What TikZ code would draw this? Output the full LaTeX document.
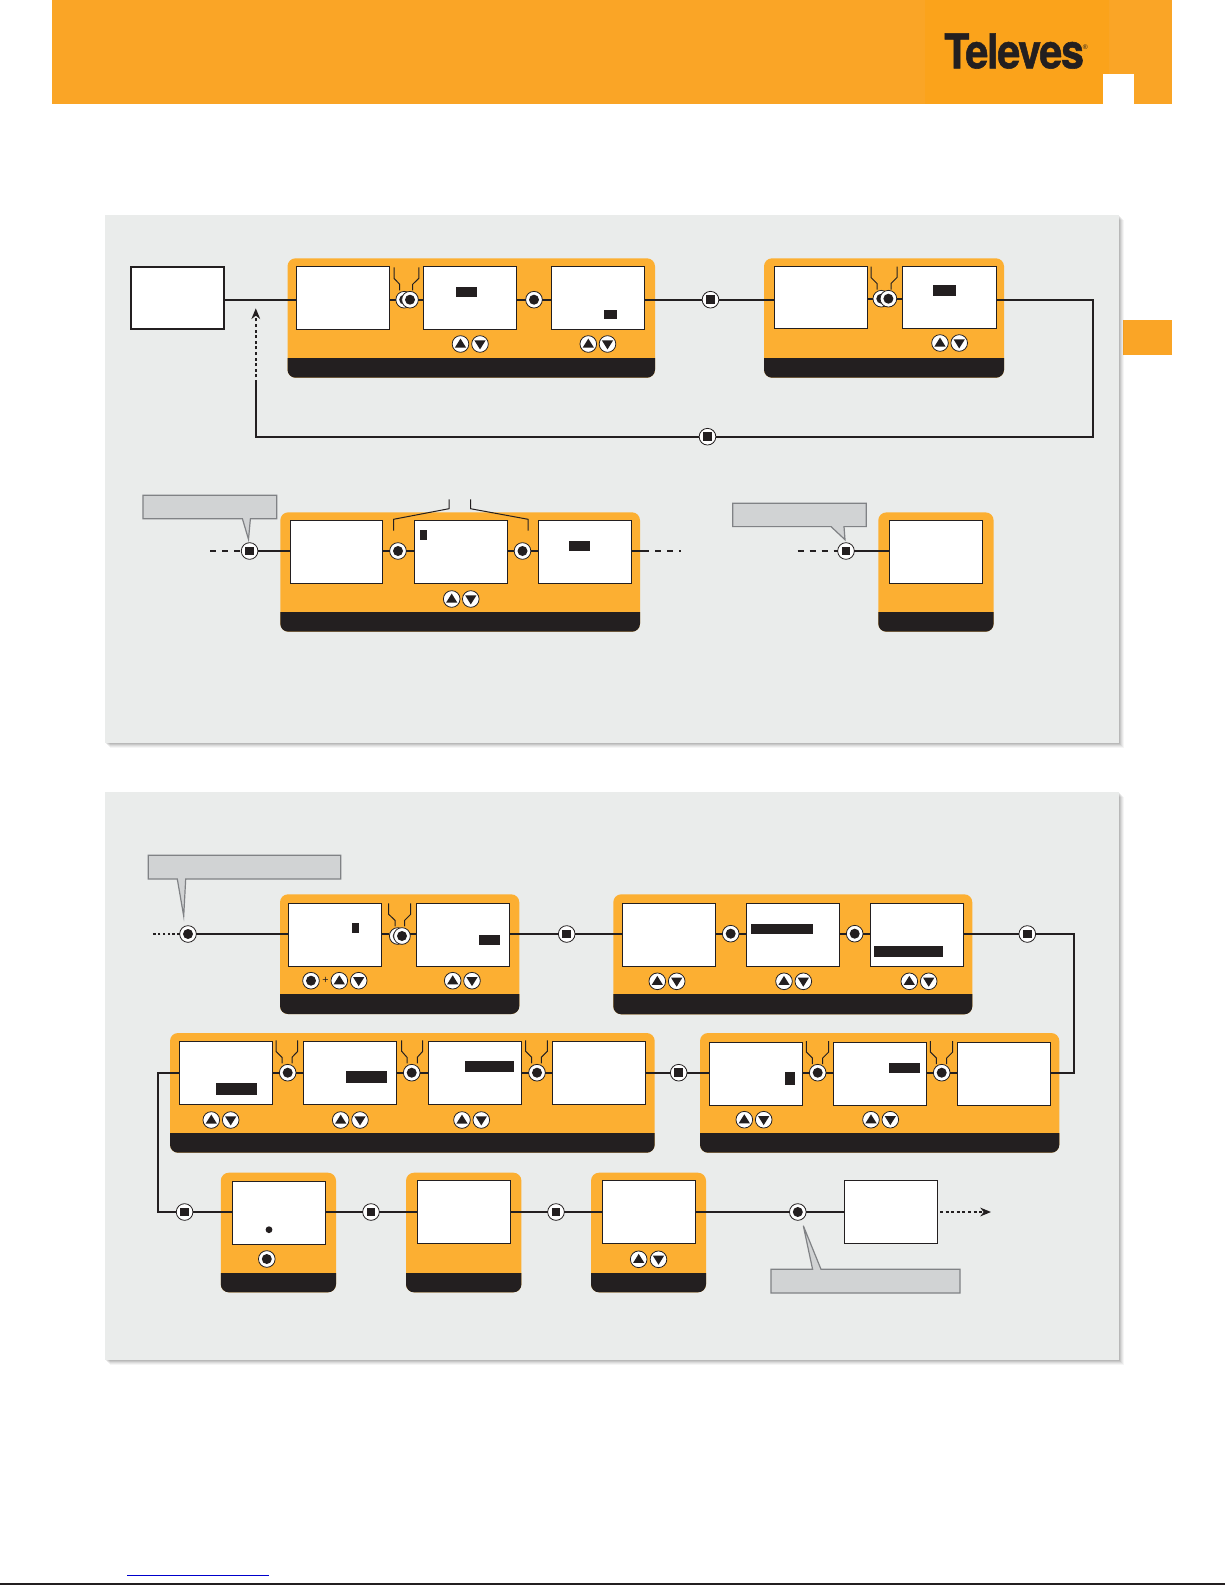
\documentclass[tikz,border=0pt]{standalone}
\usepackage{fontspec}
\usetikzlibrary{arrows.meta}
\newfontfamily\logofont[LetterSpace=-3,BoldFeatures={FakeBold=1.2}]{TeX Gyre Heros}
\newfontfamily\plusfont{Liberation Sans}
\definecolor{ink}{HTML}{231F20}
\definecolor{hdr}{HTML}{FAA526}
\definecolor{tile}{HTML}{FBA31B}
\definecolor{grp}{HTML}{FCAF32}
\definecolor{panel}{HTML}{EAECEB}
\definecolor{callfill}{HTML}{D1D3D4}
\definecolor{callline}{HTML}{808285}
\tikzset{
  screenbox/.style={draw=ink,fill=white,line width=.8pt,inner sep=0,outer sep=0},
  bcirc/.style={circle,draw=ink,line width=.6pt,fill=white,minimum size=12.5pt,inner sep=0,outer sep=0},
  conn/.style={draw=ink,line width=1.3pt},
  brk/.style={draw=ink,line width=.75pt},
  callout/.style={draw=callline,fill=callfill,line width=.9pt,line join=miter},
  tipdot/.style={-{Stealth[length=8pt,width=6.5pt,inset=2.5pt]},draw=ink,line width=1.3pt,dash pattern=on 2.2pt off 2pt},
}
\newcommand\scrn[5]{\pgfmathsetmacro\wdd{(#4-#2)*0.75}\pgfmathsetmacro\htt{(#5-#3)*0.75}\node[screenbox,minimum width=\wdd pt,minimum height=\htt pt] (#1) at ({(#2+#4)/2},{(#3+#5)/2}) {};}
\newcommand\grpbox[6]{\pgfmathsetmacro\wdd{(#4-#2)*0.75}\pgfmathsetmacro\htt{(#5-#3)*0.75}\node[fill=grp,rounded corners=6pt,inner sep=0,outer sep=0,minimum width=\wdd pt,minimum height=\htt pt] (#1) at ({(#2+#4)/2},{(#3+#5)/2}) {};
  \fill[ink] (#2,#6) [rounded corners=6pt] -- (#2,#5) -- (#4,#5) [sharp corners] -- (#4,#6) -- cycle;}
\newcommand\hilite[4]{\fill[ink] (#1,#2) rectangle (#3,#4);}
\newcommand\bdot[3]{\node[bcirc] (#1) at (#2,#3) {}; \fill[ink] (#1.center) circle (5);}
\newcommand\bsq[3]{\node[bcirc] (#1) at (#2,#3) {}; \fill[ink] ([shift={(-4.4,-4.4)}]#1.center) rectangle ([shift={(4.4,4.4)}]#1.center);}
\newcommand\bup[3]{\node[bcirc] (#1) at (#2,#3) {}; \fill[ink] ([shift={(-5.6,3.6)}]#1.center) -- ([shift={(5.6,3.6)}]#1.center) -- ([shift={(0,-5.4)}]#1.center) -- cycle;}
\newcommand\bdn[3]{\node[bcirc] (#1) at (#2,#3) {}; \fill[ink] ([shift={(-5.6,-3.6)}]#1.center) -- ([shift={(5.6,-3.6)}]#1.center) -- ([shift={(0,5.4)}]#1.center) -- cycle;}
\newcommand\bpair[4]{\bup{#1u}{#2}{#4}\bdn{#1d}{#3}{#4}}
\newcommand\fork[5]{\pgfmathsetmacro\ya{#5+11}\pgfmathsetmacro\yb{#5+17}\pgfmathsetmacro\yc{#5+23}
  \draw[brk] (#1,#5) -- (#1,\ya) -- (#2,\yb) -- (#2,\yc);
  \draw[brk] (#3,#5) -- (#3,\ya) -- (#4,\yb) -- (#4,\yc);}
\newcommand\panelbox[4]{%
  \foreach \o/\a in {5/.04,4/.05,3/.06,2/.08,1/.08}{\fill[black,opacity=\a] (#1+\o,#2+\o) rectangle (#3+\o,#4+\o);}
  \fill[panel] (#1,#2) rectangle (#3,#4);}
\begin{document}
\begin{tikzpicture}[x=0.75pt,y=-0.75pt]
\useasboundingbox (0,0) rectangle (1225,1585);
\fill[white] (0,0) rectangle (1225,1585);
% header
\fill[hdr] (52,0) rectangle (1172,104);
\fill[tile] (925,0) rectangle (1109,104);
\fill[white] (1103,74) rectangle (1134,104);
\node[anchor=base west,inner sep=0,text=ink,font=\logofont\bfseries\fontsize{36}{36}\selectfont] (logo) at (944,68.3) {\scalebox{.86}[1]{Televes}};
\node[anchor=west,inner sep=0,text=ink,font=\plusfont\fontsize{5}{5}\selectfont] (reg) at (1082.5,47.5) {®};
\fill[hdr] (1123,320) rectangle (1172,355);
\draw[ink,line width=.8pt] (0,1584) -- (1225,1584);
\draw[blue!80!black,line width=.75pt] (127,1575) -- (269,1575);
% panels
\panelbox{105}{215}{1119}{743}
\panelbox{105}{792}{1119}{1360}

% ------ first panel, first row
\scrn{start}{130.6}{266.7}{224.4}{329.3}
\draw[ink,line width=1.5pt] (start.south west) rectangle (start.north east);
\grpbox{ga}{287.5}{258.3}{655}{377.7}{358}
\scrn{a1}{296.3}{266.3}{389.7}{329.3}
\scrn{a2}{423.4}{266.3}{516.8}{329.3}
\scrn{a3}{551.6}{266.3}{644.6}{329.3}
\hilite{456}{287}{477}{297}
\hilite{604}{310}{617}{319}
\fork{394}{399.7}{418.8}{412.7}{267.3}
\bdot{abk}{404.2}{299.7}
\bdot{ab1}{410}{299.7}
\bdot{ab2}{534}{299.7}
\bpair{ap}{460.5}{480}{344}
\bpair{aq}{588.3}{607.5}{344}
\grpbox{gb}{764}{258.3}{1004}{377.7}{358}
\scrn{b1}{774.3}{266.3}{867.3}{328.3}
\scrn{b2}{902.6}{266.3}{996.6}{328.3}
\hilite{933}{285}{956}{296}
\fork{871}{877}{897}{891}{266.5}
\bdot{bbk}{881.3}{298.7}
\bdot{bb1}{888.4}{298.7}
\bpair{bp}{940}{959.2}{343}
\bsq{nab}{710.5}{299.7}
\bsq{nret}{707.5}{436.7}
\coordinate (cor1) at (1093,299.7);
\coordinate (cor2) at (1093,436.7);
\coordinate (cor3) at (255.8,436.7);
\coordinate (dotend) at (255.8,383);
\coordinate (dottip) at (255.8,308.3);
\draw[conn] (start.east |- ab1) -- (a1.west |- ab1);
\draw[conn] (a1.east |- abk) -- (abk);
\draw[conn] (ab1) -- (a2.west |- ab1);
\draw[conn] (a2.east |- ab2) -- (ab2);
\draw[conn] (ab2) -- (a3.west |- ab2);
\draw[conn] (a3.east |- nab) -- (nab);
\draw[conn] (nab) -- (b1.west |- nab);
\draw[conn] (b1.east |- bbk) -- (bbk);
\draw[conn] (bb1) -- (b2.west |- bb1);
\draw[conn] (b2.east |- cor1) -- (cor1) -- (cor2) -- (nret);
\draw[conn] (nret) -- (cor3) -- (dotend);
\draw[tipdot] (dotend) -- (dottip);

% ------ first panel, second row
\grpbox{gc}{280.3}{512.3}{640}{631.7}{612}
\scrn{c1}{290.6}{520.3}{382.8}{583.3}
\scrn{c2}{414.6}{520.3}{507.6}{583.3}
\scrn{c3}{538.6}{520.3}{631.6}{583.3}
\hilite{420}{530}{427.2}{540}
\hilite{569.2}{541}{590.2}{551}
\bdot{cb1}{398}{551}
\bdot{cb2}{522.5}{551}
\bpair{cp}{451.7}{470.8}{599}
\draw[brk] (393.5,530.7) -- (393.5,519.3) -- (449,508.7) -- (449,499.3);
\draw[brk] (470.5,499.3) -- (470.5,508.7) -- (528.2,519.3) -- (528.2,530.7);
\bsq{cin}{249.6}{551}
\coordinate (cdash) at (210,551);
\coordinate (cout) at (649,551);
\coordinate (coutd) at (681,551);
\draw[conn,dash pattern=on 4.5pt off 4.5pt] (cdash) -- (cin);
\draw[conn] (cin) -- (c1.west |- cin);
\draw[conn] (c1.east |- cb1) -- (cb1);
\draw[conn] (cb1) -- (c2.west |- cb1);
\draw[conn] (c2.east |- cb2) -- (cb2);
\draw[conn] (cb2) -- (c3.west |- cb2);
\draw[conn] (c3.east |- cout) -- (cout);
\draw[conn,dash pattern=on 4.5pt off 4.5pt] ([xshift=4.5pt]cout) -- (coutd);
\draw[callout] (142.9,495.3) -- (276.8,495.3) -- (276.8,518.7) -- (250.4,518.7) -- (248.5,539.3) -- (242.4,518.7) -- (142.9,518.7) -- cycle;
\grpbox{gd}{878.3}{512.4}{993.6}{631.7}{612}
\scrn{d1}{889.4}{520.3}{982.4}{583.3}
\bsq{din}{846}{551}
\coordinate (ddash) at (797.5,551);
\draw[conn,dash pattern=on 4.5pt off 4.5pt] (ddash) -- (din);
\draw[conn] (din) -- (d1.west |- din);
\draw[callout] (732.8,503.3) -- (866.2,503.3) -- (866.2,526.6) -- (844,526.6) -- (845,539.7) -- (831,526.6) -- (732.8,526.6) -- cycle;

% ------ second panel, row 1
\draw[callout] (148.3,855.3) -- (340.7,855.3) -- (340.7,879) -- (185.7,879) -- (183.7,916) -- (177.3,879) -- (148.3,879) -- cycle;
\grpbox{ge}{280}{894.3}{519.3}{1014}{994}
\scrn{e1}{288.3}{903.3}{381.7}{966.7}
\scrn{e2}{416.3}{903.3}{509.7}{966.7}
\hilite{352}{923}{359}{933}
\hilite{479}{935}{500}{945}
\fork{388.7}{395}{410.7}{404.7}{903.3}
\bdot{ebk}{397.7}{936}
\bdot{eb1}{402}{936}
\bdot{eok}{311}{980.7}
\node[text=ink,inner sep=0,font=\plusfont\fontsize{8}{8}\selectfont] (eplus) at (325.4,980.7) {+};
\bpair{ep}{339.3}{358.7}{980.7}
\bpair{eq}{452.7}{472}{980.7}
\bdot{ein}{188}{934}
\coordinate (edot) at (152.7,934);
\draw[conn,line width=1.1pt,dash pattern=on 1.8pt off 1.8pt] (ein) -- (edot);
\draw[conn] (ein) -- (e1.west |- ein);
\draw[conn] (e1.east |- ein) -- (ebk.west |- ein);
\draw[conn] (eb1.east |- ein) -- (e2.west |- ein);
\bsq{nef}{566.7}{934}
\draw[conn] (e2.east |- nef) -- (nef);
\grpbox{gf}{613.3}{894.3}{972.3}{1014.3}{994}
\scrn{f1}{622.3}{903.3}{715.7}{966.7}
\scrn{f2}{746.3}{903.3}{839.7}{966.7}
\scrn{f3}{870.3}{903.3}{963.7}{966.7}
\hilite{751}{924}{813}{934}
\hilite{874}{946}{943}{957}
\bdot{fb1}{730.7}{933.7}
\bdot{fb2}{854.7}{933.7}
\bpair{fp}{657.3}{676.7}{981.3}
\bpair{fq}{784}{803.3}{981.3}
\bpair{fr}{909.3}{928.7}{981.3}
\draw[conn] (nef) -- (f1.west |- nef);
\draw[conn] (f1.east |- fb1) -- (fb1);
\draw[conn] (fb1) -- (f2.west |- fb1);
\draw[conn] (f2.east |- fb2) -- (fb2);
\draw[conn] (fb2) -- (f3.west |- fb2);

% ------ second panel, row 2
\grpbox{gg}{700}{1033}{1059.3}{1152.7}{1133}
\scrn{g1}{709.3}{1042.3}{802.7}{1105.7}
\scrn{g2}{833.3}{1042.3}{926.7}{1105.7}
\scrn{g3}{957.3}{1042.3}{1050.7}{1105.7}
\hilite{785}{1072}{795}{1084.7}
\hilite{889}{1063}{920}{1073}
\fork{806.3}{812.3}{828.7}{822.7}{1041}
\fork{930.3}{936.3}{952.7}{946.7}{1041}
\bdot{gb1}{817.7}{1072.7}
\bdot{gb2}{941.7}{1072.7}
\bpair{gp}{744.3}{763.7}{1119.7}
\bpair{gq}{871}{890.3}{1119.7}
\bsq{nfg}{1027.3}{934}
\coordinate (cor4) at (1074,934);
\coordinate (cor5) at (1074,1072.7);
\draw[conn] (f3.east |- nfg) -- (nfg);
\draw[conn] (nfg) -- (cor4) -- (cor5) -- (g3.east |- cor5);
\draw[conn] (g3.west |- gb2) -- (gb2);
\draw[conn] (gb2) -- (g2.east |- gb2);
\draw[conn] (g2.west |- gb1) -- (gb1);
\draw[conn] (gb1) -- (g1.east |- gb1);
\grpbox{gh}{170}{1033}{654.7}{1152.7}{1133}
\scrn{h1}{179.3}{1041.3}{272.7}{1104.7}
\scrn{h2}{303.3}{1041.3}{396.7}{1104.7}
\scrn{h3}{428.3}{1041.3}{521.7}{1104.7}
\scrn{h4}{552.3}{1041.3}{645.7}{1104.7}
\hilite{216}{1083}{257}{1095}
\hilite{346}{1071}{387}{1083}
\hilite{465}{1061}{514}{1072}
\fork{276}{282}{297.7}{292}{1040.3}
\fork{401.7}{407}{422.7}{417.3}{1040.3}
\fork{525.7}{531.7}{547.3}{541.3}{1040.3}
\bdot{hb1}{287.7}{1072.7}
\bdot{hb2}{411.7}{1072.7}
\bdot{hb3}{537}{1072.7}
\bpair{hp}{211.3}{230.7}{1120}
\bpair{hq}{340.7}{360}{1120}
\bpair{hr}{462}{481.3}{1120}
\bsq{ngh}{678.7}{1072.7}
\draw[conn] (g1.west |- ngh) -- (ngh);
\draw[conn] (ngh) -- (h4.east |- ngh);
\draw[conn] (h4.west |- hb3) -- (hb3);
\draw[conn] (hb3) -- (h3.east |- hb3);
\draw[conn] (h3.west |- hb2) -- (hb2);
\draw[conn] (hb2) -- (h2.east |- hb2);
\draw[conn] (h2.west |- hb1) -- (hb1);
\draw[conn] (hb1) -- (h1.east |- hb1);

% ------ second panel, row 3
\grpbox{gi}{220.8}{1172.7}{336}{1292.3}{1273}
\scrn{i1}{232.3}{1181.3}{325.5}{1244.3}
\fill[ink] (269,1229.7) circle (3.4);
\bdot{iok}{266.8}{1259}
\grpbox{gj}{406}{1172.7}{521.4}{1292.3}{1273}
\scrn{j1}{417.7}{1180.3}{510.4}{1243.3}
\grpbox{gk}{591}{1172.7}{706}{1292.3}{1273}
\scrn{k1}{602.5}{1180.3}{695.3}{1243.3}
\bpair{kp}{638.7}{658.5}{1259.3}
\scrn{endbox}{844.4}{1180.3}{937.7}{1243.3}
\bsq{nhi}{184.6}{1212}
\bsq{nij}{371}{1212}
\bsq{njk}{556}{1212}
\bdot{kout}{797.8}{1212}
\coordinate (cor6) at (157.7,1072.7);
\coordinate (cor7) at (157.7,1212);
\coordinate (endtip) at (991,1212);
\coordinate (endst) at (940,1212);
\draw[conn] (h1.west |- cor6) -- (cor6) -- (cor7) -- (nhi);
\draw[conn] (nhi) -- (i1.west |- nhi);
\draw[conn] (i1.east |- nij) -- (nij);
\draw[conn] (nij) -- (j1.west |- nij);
\draw[conn] (j1.east |- njk) -- (njk);
\draw[conn] (njk) -- (k1.west |- njk);
\draw[conn] (k1.east |- kout) -- (kout);
\draw[conn] (kout) -- (endbox.west |- kout);
\draw[tipdot] (endst) -- (endtip);
\draw[callout] (771,1269.3) -- (812.6,1269.3) -- (803.3,1225.7) -- (821,1269.3) -- (960,1269.3) -- (960,1293) -- (771,1293) -- cycle;
\end{tikzpicture}
\end{document}
